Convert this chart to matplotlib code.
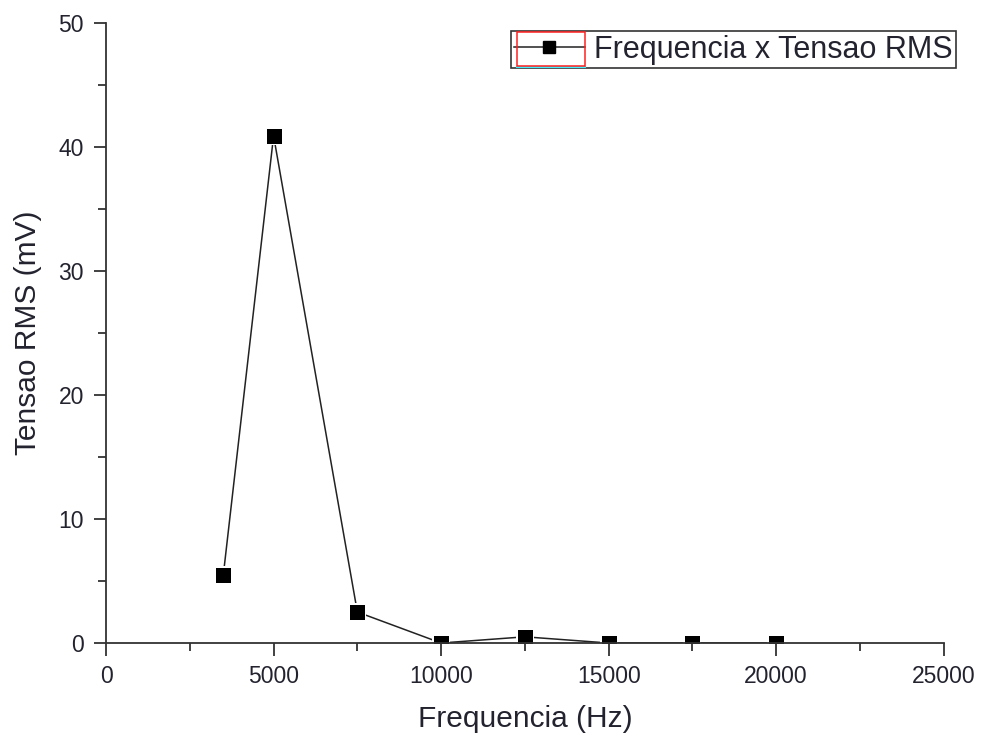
import matplotlib
matplotlib.use("Agg")
import matplotlib.pyplot as plt
from matplotlib.patches import Rectangle
from matplotlib.lines import Line2D

plt.rcParams['font.family'] = ['Liberation Sans', 'DejaVu Sans']

# Frequency sweep (Hz) and measured RMS voltage (mV)
freq_hz = [3500, 5000, 7500, 10000, 12500, 15000, 17500, 20000]
vrms_mv = [5.5, 40.9, 2.5, 0.0, 0.5, 0.0, 0.0, 0.0]

x_ticks = [0, 5000, 10000, 15000, 20000, 25000]
y_ticks = [0, 10, 20, 30, 40, 50]

text_color = '#23232f'

fig = plt.figure(figsize=(9.82, 7.42), dpi=100)
ax = fig.add_axes([0.108, 0.1334, 0.853, 0.8356])

ax.plot(freq_hz, vrms_mv, color='#222222', lw=1.1, zorder=2)
# white halo keeps the connecting line short of each marker
ax.plot(freq_hz, vrms_mv, ls='none', marker='s', ms=13.5, mfc='white',
        mec='white', mew=0, zorder=2.1)
ax.plot(freq_hz, vrms_mv, ls='none', marker='s', ms=10.8, mfc='black',
        mec='black', mew=0, zorder=2.2)

ax.set_xlim(0, 25000)
ax.set_ylim(0, 50)
ax.set_xticks(x_ticks)
ax.set_yticks(y_ticks)
ax.set_xticks([2500, 7500, 12500, 17500, 22500], minor=True)
ax.set_yticks([5, 15, 25, 35, 45], minor=True)

for s in ('top', 'right'):
    ax.spines[s].set_visible(False)
for s in ('left', 'bottom'):
    ax.spines[s].set_linewidth(1.3)
    ax.spines[s].set_color('#333333')

ax.tick_params(which='major', direction='out', length=9, width=1.3,
               color='#333333', labelsize=16.5, labelcolor=text_color, pad=7)
ax.tick_params(which='minor', direction='out', length=5.5, width=1.3,
               color='#333333')

ax.set_xlabel('Frequencia (Hz)', fontsize=21.5, color=text_color, labelpad=12)
ax.set_ylabel('Tensao RMS (mV)', fontsize=21.5, color=text_color, labelpad=12)

handle = Line2D([], [], color='#222222', lw=1.1, marker='s', ms=8,
                mfc='black', mec='black')
leg = ax.legend([handle], ['Frequencia x Tensao RMS'], loc='upper right',
                bbox_to_anchor=(956 / 982, 1 - 31 / 742),
                bbox_transform=fig.transFigure, fontsize=22, frameon=True,
                fancybox=False, edgecolor='#333333', framealpha=1,
                borderpad=0.12, handlelength=2.3, handletextpad=0.3,
                borderaxespad=0, labelcolor=text_color)
leg.get_frame().set_linewidth(1.2)

# selection outline around the legend symbol, sized from the drawn legend
fig.canvas.draw()
frame_bb = leg.get_frame().get_window_extent()
text_bb = leg.get_texts()[0].get_window_extent()
W, H = fig.bbox.width, fig.bbox.height
x0 = (frame_bb.x0 + 6) / W
x1 = (text_bb.x0 - 9) / W
y0 = (frame_bb.y0 + 2) / H
y1 = (frame_bb.y1 - 1) / H
fig.patches.append(Rectangle((x0, y0), x1 - x0, y1 - y0,
                             transform=fig.transFigure, fill=False,
                             edgecolor='#ff2020', lw=1.1, zorder=10))
fig.lines.append(Line2D([x0, x1], [y0 - 1 / H, y0 - 1 / H],
                        transform=fig.transFigure, color='#40f0ff', lw=1.5,
                        zorder=10))

fig.savefig('out.png', dpi=100)
